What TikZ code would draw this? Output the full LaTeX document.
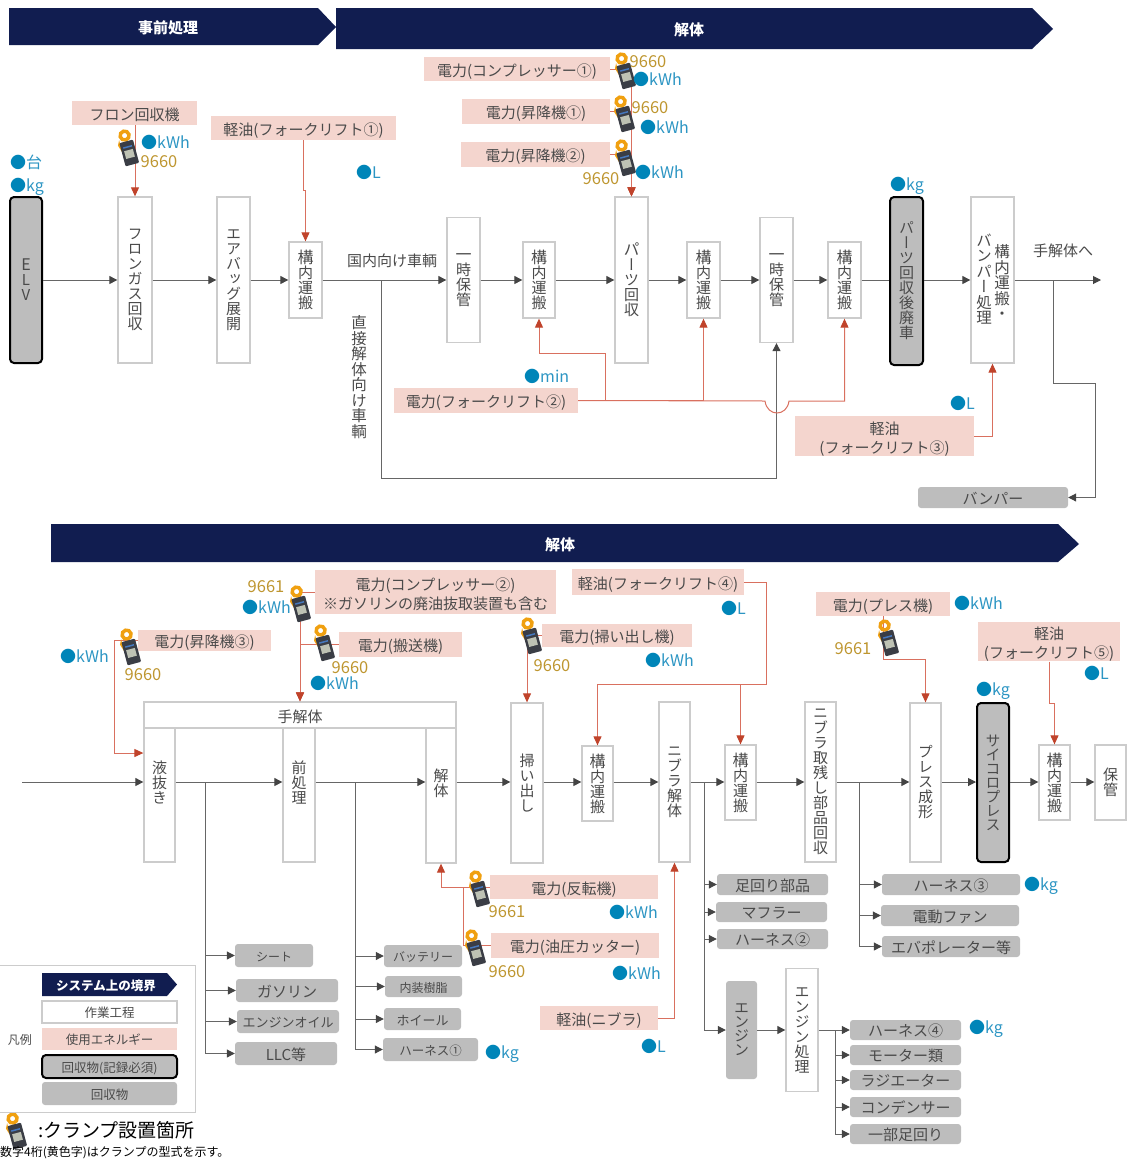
\documentclass[tikz,border=0pt]{standalone}
\usepackage{fontspec}
\setmainfont{Noto Sans CJK JP}
\newfontfamily\vertfont[RawFeature=+vert]{Noto Sans CJK JP}
\usetikzlibrary{arrows.meta,positioning,calc}
\definecolor{navy}{HTML}{111D50}
\definecolor{boxline}{HTML}{CCCCCC}
\definecolor{recovered}{HTML}{BDBDBD}
\definecolor{energy}{HTML}{F4D5CE}
\definecolor{redline}{HTML}{D9705F}
\definecolor{redtip}{HTML}{C0432B}
\definecolor{flowline}{HTML}{666666}
\definecolor{flowtip}{HTML}{444444}
\definecolor{labeltext}{HTML}{4A4A4A}
\definecolor{unitblue}{HTML}{2C95C3}
\definecolor{dotblue}{HTML}{0085B8}
\definecolor{gold}{HTML}{BE9630}
\definecolor{clampring}{HTML}{F0A010}
\definecolor{clampbody}{HTML}{3A3D45}
\definecolor{clampscreen}{HTML}{BEC2B4}
\definecolor{clampkeys}{HTML}{4678BE}
\newcommand{\fsz}[1]{\fontsize{#1}{#1}\selectfont}
\newcommand{\mdot}{\textcolor{dotblue}{●}}
\newcommand{\transport}{\fsz{16}構\\内\\運\\搬}

\begin{document}
\begin{tikzpicture}[x=1pt,y=-1pt]
    \useasboundingbox (0,0) rectangle (1128,1160);

    % Define node styles
    \tikzstyle{work box}=[draw=boxline, line width=1.3pt, fill=white, inner sep=0pt, align=center, text=labeltext, font=\vertfont\fontsize{15}{15}\selectfont]
    \tikzstyle{thick box}=[work box, draw=black, line width=2pt, fill=recovered, rounded corners=4pt]
    \tikzstyle{out box}=[fill=recovered, rounded corners=3pt, inner sep=0pt, text=labeltext, font=\fsz{15}]
    \tikzstyle{energy box}=[fill=energy, inner sep=0pt, align=center, text=labeltext, font=\fontsize{15}{19}\selectfont]
    \tikzstyle{note}=[inner sep=0pt, text=labeltext, font=\fsz{15}, text height=12pt, text depth=0pt]
    \tikzstyle{vnote}=[inner sep=0pt, text=labeltext, align=center, font=\vertfont\fsz{15.5}]
    \tikzstyle{meas}=[inner sep=0pt, anchor=west, text=unitblue, font=\fsz{16}, text height=12pt, text depth=0pt]
    \tikzstyle{model}=[inner sep=0pt, text=gold, font=\fsz{16.5}, text height=13pt, text depth=0pt]
    \tikzstyle{banner text}=[inner sep=0pt, text=white, font=\bfseries\fsz{15}, text height=12pt, text depth=0pt]
    \tikzstyle{flow}=[draw=flowline, line width=1pt, -{Triangle[length=8pt,width=8pt,color=flowtip]}]
    \tikzstyle{flow plain}=[draw=flowline, line width=1pt]
    \tikzstyle{power}=[draw=redline, line width=1pt, -{Triangle[length=9pt,width=8pt,color=redtip]}]
    \tikzset{
        clamp/.pic={
            \draw[draw=clampring, line width=3.5pt] (0,-17) circle (4.5);
            \fill[clampring] (-9,-9) -- (-6.5,-14) -- (-6.5,-1) -- cycle;
            \fill[rounded corners=1pt, fill=clampbody] (-7,-11) rectangle (7,13);
            \fill[fill=clampscreen] (-4.5,-2) rectangle (4.5,6);
            \fill[fill=clampkeys] (-4.5,-6) rectangle (4.5,-4.5);
        }
    }

    % Draw banners
    \fill[navy] (9,8) -- (318,8) -- (336,27) -- (318,45) -- (9,45) -- cycle;
    \fill[navy] (336,8) -- (1032,8) -- (1053,29) -- (1032,49) -- (336,49) -- cycle;
    \fill[navy] (51,524) -- (1058,524) -- (1079,544) -- (1058,562) -- (51,562) -- cycle;
    \node[banner text] (bannerPre) at (168,27) {事前処理};
    \node[banner text] (bannerTop) at (689,29) {解体};
    \node[banner text] (bannerLow) at (560,544) {解体};

    % Draw upper process row
    \coordinate (rowA) at (0,280);
    \foreach \nm/\cx/\bw/\bh/\txt in {
        fronBox/135/34/166/{フ\\ロ\\ン\\ガ\\ス\\回\\収},
        airbagBox/233.5/33/166/{エ\\ア\\バ\\ッ\\グ\\展\\開},
        innerA/305.5/33/76/{\transport},
        tempA/463.5/33/125/{\fsz{16}一\\時\\保\\管},
        innerB/539/32/76/{\transport},
        partsBox/631.5/33/166/{\fsz{16}パ\\ー\\ツ\\回\\収},
        innerC/703.5/33/76/{\transport},
        tempB/776.5/33/125/{\fsz{16}一\\時\\保\\管},
        innerD/844.5/33/76/{\transport},
        procBox/992.5/43/166/{}} {
        \node[work box, minimum width=\bw pt, minimum height=\bh pt] (\nm) at (\cx,280) {\txt};
    }
    \node[thick box, minimum width=32pt, minimum height=166pt] (elvBox) at (26,280) {\fontsize{16}{18}\selectfont E\\L\\V};
    \node[thick box, minimum width=33pt, minimum height=168pt] (scrapBox) at (906.5,281) {パ\\ー\\ツ\\回\\収\\後\\廃\\車};
    \node[vnote] (procTextA) at (1002,282) {構\\内\\運\\搬\\・};
    \node[vnote] (procTextB) at (984,279) {バ\\ン\\パ\\ー\\処\\理};
    \node[out box, minimum width=150pt, minimum height=21pt, text height=14pt, text depth=0pt] (bumper) at (993,497.5) {バンパー};

    % Connect upper row
    \foreach \a/\b in {elvBox/fronBox, fronBox/airbagBox, airbagBox/innerA, innerA/tempA, tempA/innerB, innerB/partsBox, partsBox/innerC, innerC/tempB, tempB/innerD, scrapBox/procBox} {
        \draw[flow] (\a.east |- rowA) -- (\b.west |- rowA);
    }
    \draw[flow plain] (innerD.east |- rowA) -- (scrapBox.west |- rowA);
    \coordinate (exitEnd) at (1101,280);
    \draw[flow] (procBox.east |- rowA) -- (exitEnd);
    \coordinate (branchDirect) at (381,280);
    \coordinate (directCorner) at (381,478);
    \draw[flow] (branchDirect) -- (directCorner) -| (tempB.south);
    \coordinate (branchBump) at (1053,280);
    \coordinate (jogBump) at (1095,383);
    \draw[flow] (branchBump) |- (jogBump) |- (bumper.east);

    % Upper labels
    \node[note] (domestic) at (392,260) {国内向け車輌};
    \node[note] (toManual) at (1063,250) {手解体へ};
    \node[vnote] (directCars) at (359,377) {直\\接\\解\\体\\向\\け\\車\\輌};

    % Draw upper energy boxes
    \foreach \nm/\cx/\cy/\bw/\bh/\txt in {
        fronUnit/134.5/113/125/24/{フロン回収機},
        oilA/303.5/128/185/24/{軽油(フォークリフト①)},
        compA/517/69/186/24/{電力(コンプレッサー①)},
        liftA/536/111.5/148/25/{電力(昇降機①)},
        liftB/535.5/154.5/149/25/{電力(昇降機②)},
        forkB/486/400.5/184/25/{電力(フォークリフト②)}} {
        \node[energy box, text height=14pt, text depth=0pt, minimum width=\bw pt, minimum height=\bh pt] (\nm) at (\cx,\cy) {\txt};
    }
    \node[energy box, minimum width=179pt, minimum height=40pt] (oilC) at (884.5,436) {\rule{0pt}{18pt}軽油\\(フォークリフト③)};

    % Connect upper energy boxes
    \draw[power] (fronUnit.south -| fronBox.north) -- (fronBox.north);
    \coordinate (jogOilA) at (303.5,190);
    \draw[power] (oilA.south) -- (jogOilA) -| (innerA.north);
    \foreach \src in {compA,liftA,liftB} {
        \draw[power] (\src.east) -| (partsBox.north);
    }
    \coordinate (jogB) at (605,353);
    \draw[power] (forkB.east) -| (jogB) -| (innerB.south);
    \draw[power] (forkB.east) -| (innerC.south);
    \coordinate (hopA) at (765,401);
    \coordinate (hopB) at (789,401);
    \draw[power] (forkB.east) -- (hopA) .. controls (767,417) and (787,417) .. (hopB) -| (innerD.south);
    \draw[power] (oilC.east) -| (procBox.south);

    % Draw lower process row
    \coordinate (rowB) at (0,782);
    \foreach \nm/\cx/\cy/\bw/\bh/\txt in {
        drainBox/159.5/795/31/134/{液\\抜\\き\\[11pt]~},
        preBox/299/795/32/134/{前\\処\\理\\[11pt]~},
        dismBox/441/795.5/30/135/{解\\体\\[11pt]~},
        sweepBox/527/783/32/160/{掃\\い\\出\\し},
        innerE/597.5/783.5/31/75/{\transport},
        nibbBox/674.5/782/31/160/{ニ\\ブ\\ラ\\解\\体},
        innerF/740.5/782.5/31/75/{\transport},
        restBox/820.5/782/31/160/{ニ\\ブ\\ラ\\取\\残\\し\\部\\品\\回\\収},
        pressBox/925.5/782.5/31/159/{プ\\レ\\ス\\成\\形},
        innerG/1054.5/782.5/31/75/{\transport},
        storeBox/1110.5/782.5/31/75/{保\\管},
        engProc/802/1030/32/123/{\fontsize{15}{14}\selectfont エ\\ン\\ジ\\ン\\処\\理}} {
        \node[work box, minimum width=\bw pt, minimum height=\bh pt] (\nm) at (\cx,\cy) {\txt};
    }
    \node[work box, font=\fsz{15}, text height=14pt, text depth=0pt, minimum width=312pt, minimum height=26pt] (manualBox) at (300,715) {手解体};
    \node[thick box, font=\vertfont\fontsize{15}{14}\selectfont, minimum width=32pt, minimum height=159pt] (cubeBox) at (993,782.5) {サ\\イ\\コ\\ロ\\プ\\レ\\ス};
    \node[out box, font=\vertfont\fontsize{15}{14}\selectfont, align=center, minimum width=31pt, minimum height=98pt] (engine) at (741.5,1030) {エ\\ン\\ジ\\ン};

    % Connect lower row
    \coordinate (lineIn) at (22,782);
    \draw[flow] (lineIn) -- (drainBox.west |- rowB);
    \foreach \a/\b in {drainBox/preBox, preBox/dismBox, dismBox/sweepBox, sweepBox/innerE, innerE/nibbBox, nibbBox/innerF, innerF/restBox, restBox/pressBox, pressBox/cubeBox, cubeBox/innerG, innerG/storeBox} {
        \draw[flow] (\a.east |- rowB) -- (\b.west |- rowB);
    }

    % Draw recovered items
    \foreach \nm/\cx/\cy/\bw/\bh/\fs/\txt in {
        seat/274/955.5/78/23/12/シート,
        gasoline/287/990.5/102/23/15/ガソリン,
        engOil/288/1021.5/102/23/13/エンジンオイル,
        llc/286/1053.5/102/23/15/LLC等,
        battery/423/956/78/22/12/バッテリー,
        interior/423.5/986.5/77/21/12/内装樹脂,
        wheel/422.5/1019/77/22/13/ホイール,
        harnessA/430.5/1049.5/95/23/12.5/ハーネス①,
        susp/772.5/884.5/111/21/15/足回り部品,
        muffler/771.5/912/111/20/15/マフラー,
        harnessB/772.5/939/111/20/15/ハーネス②,
        harnessC/951/884.5/138/21/15/ハーネス③,
        fan/950/915.5/138/21/15/電動ファン,
        evap/951/946.5/138/21/15/エバポレーター等,
        harnessD/905.5/1030/111/20/15/ハーネス④,
        motor/905.5/1055/111/20/15/モーター類,
        radiator/905.5/1080/111/20/15/ラジエーター,
        condenser/905.5/1107/111/20/15/コンデンサー,
        partSusp/905.5/1134/111/20/15/一部足回り} {
        \node[out box, font=\fsz{\fs}, text height=0.93*\fs pt, text depth=0pt, minimum width=\bw pt, minimum height=\bh pt] (\nm) at (\cx,\cy) {\txt};
    }

    % Connect recovered items
    \coordinate (branchA) at (205,782);
    \foreach \t in {seat,gasoline,engOil,llc} {
        \draw[flow] (branchA) |- (\t.west);
    }
    \coordinate (branchB) at (355,782);
    \foreach \t in {battery,interior,wheel,harnessA} {
        \draw[flow] (branchB) |- (\t.west);
    }
    \coordinate (branchC) at (704,782);
    \foreach \t in {susp,muffler,harnessB,engine} {
        \draw[flow] (branchC) |- (\t.west);
    }
    \coordinate (branchD) at (859,782);
    \foreach \t in {harnessC,fan,evap} {
        \draw[flow] (branchD) |- (\t.west);
    }
    \draw[flow] (engine.east) -- (engProc.west);
    \draw[flow] (engProc.east) -- (harnessD.west);
    \coordinate (branchE) at (835,1030);
    \foreach \t in {motor,radiator,condenser,partSusp} {
        \draw[flow] (branchE) |- (\t.west);
    }

    % Draw lower energy boxes
    \foreach \nm/\cx/\cy/\bw/\bh/\txt in {
        liftC/204.5/640.5/133/21/{電力(昇降機③)},
        convey/400.5/644.5/123/25/{電力(搬送機)},
        sweeper/617/635.5/150/23/{電力(掃い出し機)},
        oilD/658/582/172/26/{軽油(フォークリフト④)},
        pressUnit/883/604/134/24/{電力(プレス機)},
        turnover/574/887/168/24/{電力(反転機)},
        cutter/575/945.5/168/25/{電力(油圧カッター)},
        oilN/599/1018/118/24/{軽油(ニブラ)}} {
        \node[energy box, text height=14pt, text depth=0pt, minimum width=\bw pt, minimum height=\bh pt] (\nm) at (\cx,\cy) {\txt};
    }
    \node[energy box, minimum width=241pt, minimum height=44pt] (compB) at (435.5,592) {\rule{0pt}{18pt}電力(コンプレッサー②)\\※ガソリンの廃油抜取装置も含む};
    \node[energy box, minimum width=142pt, minimum height=39pt] (oilE) at (1049,641.5) {\rule{0pt}{18pt}軽油\\(フォークリフト⑤)};

    % Connect lower energy boxes
    \coordinate (jogLift) at (114,753);
    \draw[power] (liftC.west) -| (jogLift) -- (jogLift -| drainBox.west);
    \draw[power] (compB.west) -| (manualBox.north);
    \draw[power] (convey.west) -| (manualBox.north);
    \draw[power] (sweeper.west) -| (sweepBox.north);
    \coordinate (jogOil) at (766,684);
    \draw[power] (oilD.east) -| (jogOil) -| (innerE.north);
    \draw[power] (jogOil) -| (innerF.north);
    \coordinate (jogPress) at (883,659);
    \draw[power] (pressUnit.south -| jogPress) -- (jogPress) -| (pressBox.north);
    \coordinate (jogOilE) at (1049,703);
    \draw[power] (oilE.south) -- (jogOilE) -| (innerG.north);
    \draw[power] (turnover.west) -| (dismBox.south);
    \coordinate (jogCut) at (463,887);
    \draw[redline, line width=1pt] (cutter.west) -| (jogCut);
    \draw[power] (oilN.east) -| (nibbBox.south);

    % Draw clamps
    \foreach \nm/\cx/\cy in {clampA/129/152, clampB/626/75, clampC/625/118, clampD/626/162, clampE/131/651, clampF/301/608, clampG/325/647, clampH/532/640, clampI/889/642, clampJ/480/893, clampK/476/952, clampL/17/1135} {
        \pic[rotate=15] (\nm) at (\cx,\cy) {clamp};
    }

    % Measured units
    \foreach \nm/\cx/\cy/\unit in {
        mA/10/162/台, mB/10/185/kg, mC/141/142/kWh, mD/356/172/L, mE/633/79/kWh, mF/640/127/kWh,
        mG/635/172/kWh, mH/890/184/kg, mI/524/376/min, mJ/950/403/L, mK/60/656/kWh, mL/242/607/kWh,
        mM/310/683/kWh, mN/645/660/kWh, mO/721/608/L, mP/954/603/kWh, mQ/1084/673/L, mR/976/689/kg,
        mS/609/912/kWh, mT/612/973/kWh, mU/641/1046/L, mV/485/1052/kg, mW/1024/884/kg, mX/969/1027/kg} {
        \node[meas] (\nm) at (\cx,\cy) {\mdot\unit};
    }

    % Clamp model numbers
    \foreach \nm/\cx/\cy/\txt in {
        gA/159/161/9660, gB/648/61/9660, gC/650/107/9660, gD/601/178/9660, gE/143/674/9660,
        gF/266/586/9661, gG/350/667/9660, gH/552/665/9660, gI/853/648/9661, gJ/507/911/9661, gK/507/971/9660} {
        \node[model] (\nm) at (\cx,\cy) {\txt};
    }

    % Legend
    \node[draw=boxline, line width=1pt, minimum width=197pt, minimum height=147pt, inner sep=0pt] (legendFrame) at (96.5,1038.5) {};
    \node[note, font=\fsz{12}, text height=11pt] (legendTitle) at (20,1039) {凡例};
    \fill[navy] (42,973) -- (167,973) -- (177,984.5) -- (167,996) -- (42,996) -- cycle;
    \node[banner text, font=\bfseries\fsz{12.5}, text height=11.5pt] (legendBorder) at (106,985) {システム上の境界};
    \node[work box, font=\fsz{12.5}, text height=11.5pt, text depth=0pt, minimum width=135pt, minimum height=22pt] (legendWork) at (109.5,1012) {作業工程};
    \node[energy box, font=\fsz{12.5}, text height=11.5pt, text depth=0pt, minimum width=135pt, minimum height=22pt] (legendEnergy) at (109.5,1039) {使用エネルギー};
    \node[thick box, font=\fsz{12.5}, text height=11.5pt, text depth=0pt, minimum width=135pt, minimum height=23pt] (legendRec) at (109.5,1066.5) {回収物(記録必須)};
    \node[out box, font=\fsz{12.5}, text height=11.5pt, text depth=0pt, minimum width=135pt, minimum height=23pt] (legendOut) at (109.5,1093.5) {回収物};
    \node[inner sep=0pt, anchor=west, font=\fsz{19}] (clampNote) at (38,1130) {:クランプ設置箇所};
    \node[inner sep=0pt, anchor=west, font=\fsz{12}] (modelNote) at (0,1153) {数字4桁(黄色字)はクランプの型式を示す。};
\end{tikzpicture}
\end{document}
